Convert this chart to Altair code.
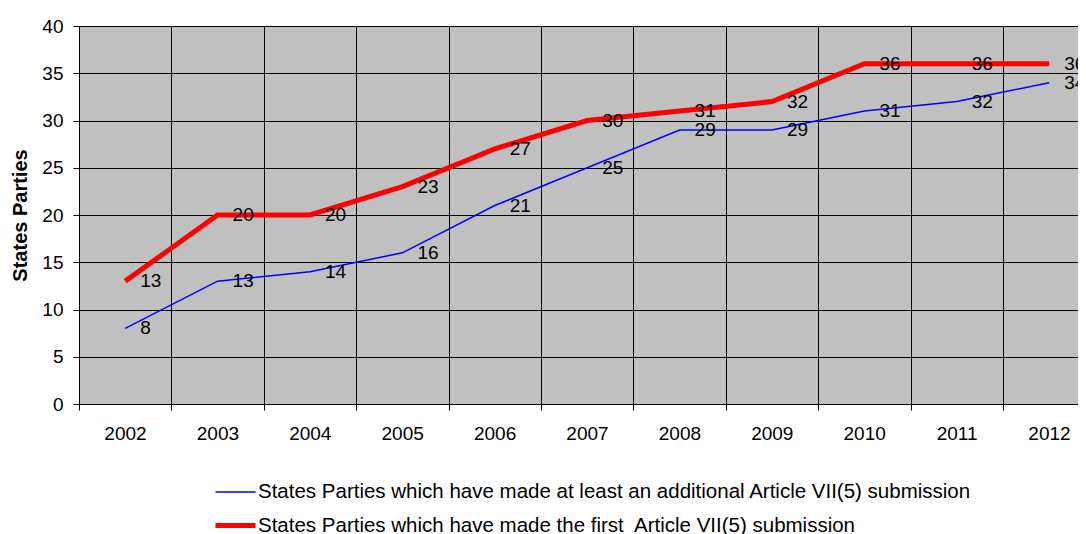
import altair as alt
import pandas as pd

years = [2002, 2003, 2004, 2005, 2006, 2007, 2008, 2009, 2010, 2011, 2012]
first_sub = [13, 20, 20, 23, 27, 30, 31, 32, 36, 36, 36]
additional_sub = [8, 13, 14, 16, 21, 25, 29, 29, 31, 32, 34]
series_names = [
    "States Parties which have made at least an additional Article VII(5) submission",
    "States Parties which have made the first\u00a0 Article VII(5) submission",
]
series_colors = ["#0000FF", "#FF0000"]
series_widths = [1.5, 5]
y_ticks = [0, 5, 10, 15, 20, 25, 30, 35, 40]

rows = []
for y, v in zip(years, additional_sub):
    rows.append({"year": y, "value": v, "series": series_names[0]})
for y, v in zip(years, first_sub):
    rows.append({"year": y, "value": v, "series": series_names[1]})
df = pd.DataFrame(rows)

boundaries = [y - 0.5 for y in years]
FONT = "Liberation Sans"

x_enc = alt.X(
    "year:Q",
    scale=alt.Scale(domain=[2001.5, 2012.312], nice=False, zero=False),
    axis=alt.Axis(
        values=boundaries,
        labelExpr="format(datum.value + 0.5, 'd')",
        labelOffset=46,
        labelFlush=False,
        labelOverlap=False,
        grid=True,
        gridColor="#000000",
        gridOpacity=1,
        gridWidth=1,
        tickSize=6,
        tickColor="#000000",
        domainColor="#000000",
        labelPadding=14,
        labelFontSize=19,
        labelColor="#000000",
        labelFont=FONT,
        title=None,
    ),
)
y_enc = alt.Y(
    "value:Q",
    scale=alt.Scale(domain=[0, 40], nice=False),
    axis=alt.Axis(
        values=y_ticks,
        grid=True,
        gridColor="#000000",
        gridOpacity=1,
        gridWidth=1,
        tickSize=6,
        tickColor="#000000",
        domainColor="#000000",
        labelPadding=10,
        labelFontSize=19,
        labelColor="#000000",
        labelFont=FONT,
        title="States Parties",
        titleFont=FONT,
        titleFontSize=20,
        titleFontWeight="bold",
        titleColor="#000000",
        titlePadding=11,
    ),
)

legend_cfg = dict(
    title=None,
    orient="none",
    legendX=134,
    legendY=445,
    direction="vertical",
    symbolType="stroke",
    symbolSize=1600,
    labelFont=FONT,
    labelFontSize=20.5,
    labelColor="#000000",
    labelOffset=0,
    labelLimit=1000,
    rowPadding=-14,
    padding=0,
)

lines = alt.Chart(df).mark_line().encode(
    x=x_enc,
    y=y_enc,
    color=alt.Color(
        "series:N",
        scale=alt.Scale(domain=series_names, range=series_colors),
        legend=alt.Legend(**legend_cfg),
    ),
    strokeWidth=alt.StrokeWidth(
        "series:N",
        scale=alt.Scale(domain=series_names, range=series_widths),
        legend=alt.Legend(**legend_cfg),
    ),
    order="year:Q",
)

labels = alt.Chart(df).mark_text(
    align="left", baseline="middle", dx=15, fontSize=19, font=FONT, color="#000000"
).encode(x="year:Q", y="value:Q", text="value:Q")

chart = (
    alt.layer(lines, labels)
    .properties(
        width=999,
        height=378,
        autosize=alt.AutoSizeParams(type="none"),
        padding={"left": 71, "top": 18, "right": 0, "bottom": 130},
        background="#FFFFFF",
    )
    .configure_view(fill="#C0C0C0", strokeWidth=0)
)

chart.save("out.html", embed_options={"renderer": "svg", "actions": False})
